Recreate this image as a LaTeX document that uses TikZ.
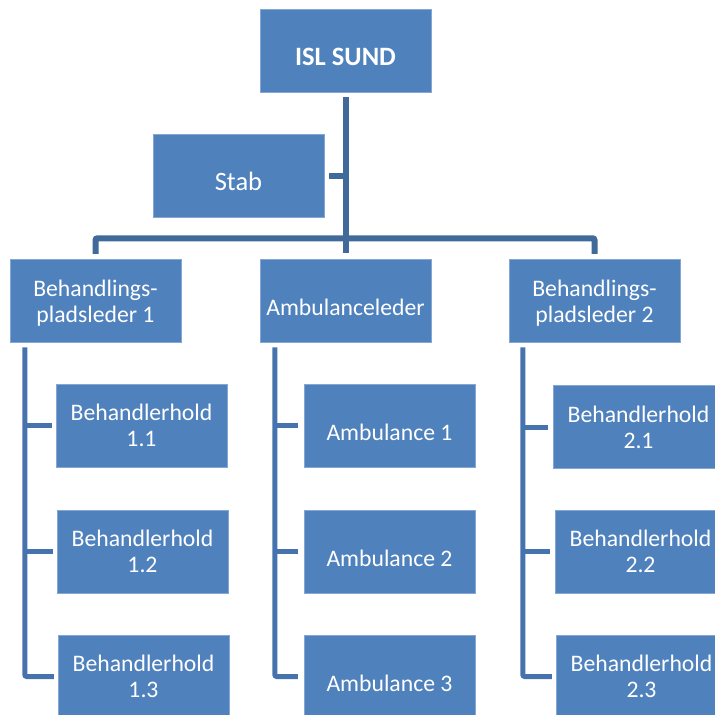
\documentclass[tikz,border=0pt]{standalone}
\usepackage{fontspec}
\setmainfont{Carlito}
\usetikzlibrary{calc}
\definecolor{boxblue}{HTML}{4F81BD}
\definecolor{boxedge}{HTML}{86A7D3}
\definecolor{trunkblue}{HTML}{3F6A99}
\definecolor{subblue}{HTML}{4673AD}
% lower a line of text without changing the space it claims
\newcommand\dropby[2]{\raisebox{-#1}[\height][\depth]{#2}}
\tikzset{
  unit/.style={rectangle, fill=boxblue, draw=boxedge, line width=0.5pt,
    minimum width=171pt, minimum height=83pt, inner sep=0pt,
    text=white, align=center,
    font=\fontsize{23.7}{26}\selectfont},
  bigunit/.style={unit, font=\fontsize{26.5}{29}\selectfont},
  trunk/.style={draw=trunkblue, line width=6pt, rounded corners=2pt},
  branch/.style={draw=subblue, line width=5pt, rounded corners=2pt},
}
\begin{document}
\begin{tikzpicture}[x=1pt, y=-1pt]
\useasboundingbox (0,0) rectangle (715,715);
\clip (0,0) rectangle (715,715);

% top level and staff
\node[bigunit, font=\bfseries\fontsize{26.5}{29}\selectfont] (top) at (345.5,50.5) {\dropby{6pt}{ISL SUND}};
\node[bigunit] (stab) at (238.5,175.5) {\dropby{6pt}{Stab}};

% second level
\node[unit] (bp1) at (95.5,300.5) {\dropby{3pt}{Behandlings-}\\\dropby{3pt}{pladsleder 1}};
\node[unit] (amb) at (345.5,300.5) {\dropby{7pt}{Ambulanceleder}};
\node[unit] (bp2) at (594.5,300.5) {\dropby{3pt}{Behandlings-}\\\dropby{3pt}{pladsleder 2}};

% third level
\node[unit] (b11) at (141.5,425.5) {Behandlerhold\\1.1};
\node[unit] (b12) at (142.5,551.5) {Behandlerhold\\1.2};
\node[unit] (b13) at (143.5,676.5) {Behandlerhold\\1.3};
\node[unit] (a1) at (389.5,425.5) {\dropby{7pt}{Ambulance 1}};
\node[unit] (a2) at (389.5,551.5) {\dropby{7pt}{Ambulance 2}};
\node[unit] (a3) at (389.5,676.5) {\dropby{7pt}{Ambulance 3}};
\node[unit] (b21) at (638.5,427) {Behandlerhold\\2.1};
\node[unit] (b22) at (640.5,551.5) {Behandlerhold\\2.2};
\node[unit] (b23) at (641.5,676.5) {Behandlerhold\\2.3};

% connectors from the top unit
\coordinate (bar) at ($(top.south)+(0,146)$);
\draw[trunk] ($(top.south)+(0,5)$) -- ($(amb.north)+(0,-6)$);
\draw[trunk] ($(stab.east)+(5,0)$) -- (stab.east -| top.south);
\draw[trunk] ($(bp1.north)+(0,-5)$) |- (bar) -| ($(bp2.north)+(0,-5)$);

% connectors to the third level
\coordinate (v1) at ($(bp1.south west)+(15,5)$);
\coordinate (v2) at ($(amb.south west)+(15,5)$);
\coordinate (v3) at ($(bp2.south west)+(14,5)$);
\draw[branch] (v1) |- ($(b13.west)+(-4,0)$);
\draw[branch] (b11.west -| v1) -- ($(b11.west)+(-4,0)$);
\draw[branch] (b12.west -| v1) -- ($(b12.west)+(-4,0)$);
\draw[branch] (v2) |- ($(a3.west)+(-6,0)$);
\draw[branch] (a1.west -| v2) -- ($(a1.west)+(-6,0)$);
\draw[branch] (a2.west -| v2) -- ($(a2.west)+(-6,0)$);
\draw[branch] (v3) |- ($(b23.west)+(-4,0)$);
\draw[branch] (b21.west -| v3) -- ($(b21.west)+(-5,0)$);
\draw[branch] (b22.west -| v3) -- ($(b22.west)+(-5,0)$);
\end{tikzpicture}
\end{document}
